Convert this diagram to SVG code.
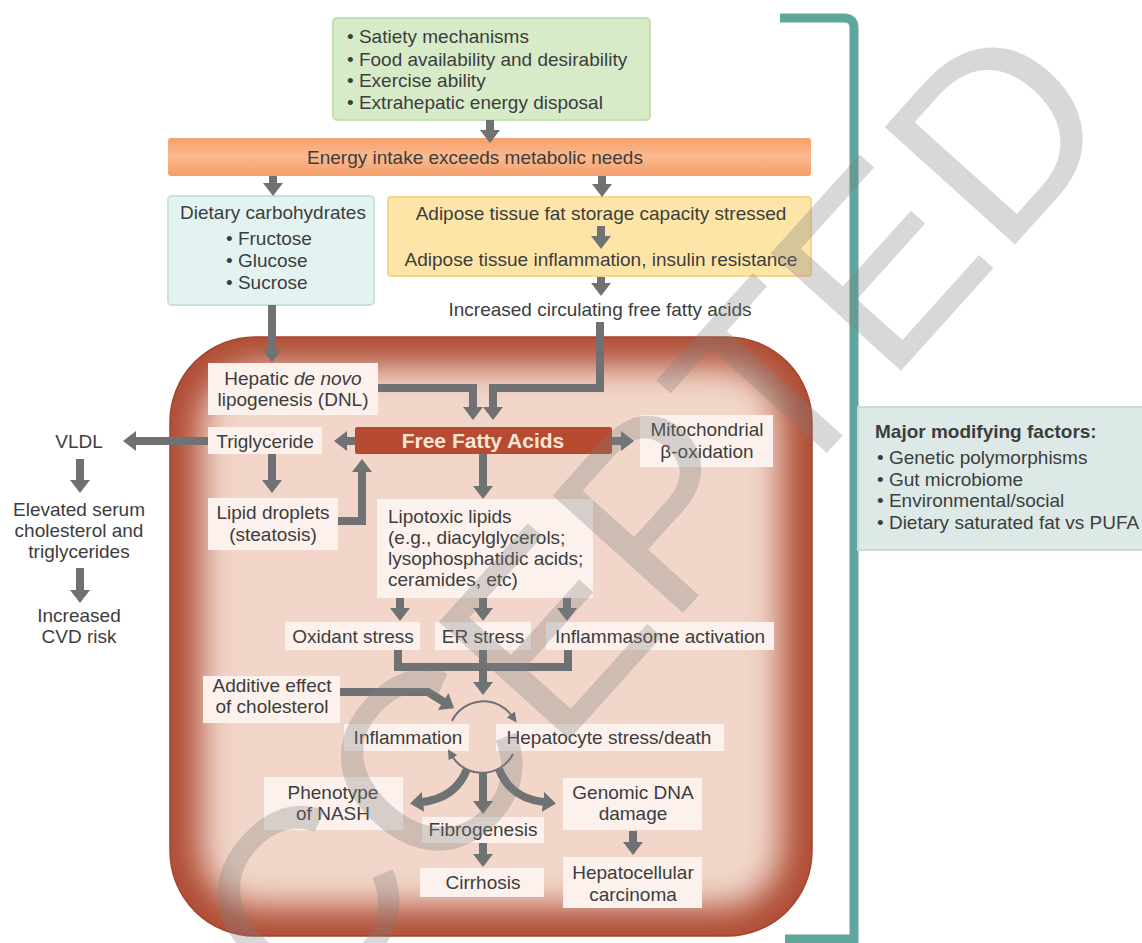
<svg xmlns="http://www.w3.org/2000/svg" width="1142" height="943" viewBox="0 0 1142 943">
<defs>
<style>
.t{font-family:"Liberation Sans",Arial,Helvetica,sans-serif;font-size:19px;fill:#3d3d3d}
.c{text-anchor:middle}
.b{font-weight:bold}
.ib{fill:#fcf1ec}
.ln{fill:none;stroke:#707173;stroke-width:8;stroke-linejoin:miter}
.ar{marker-end:url(#ah)}
.thin{fill:none;stroke:#707173;stroke-width:2;marker-end:url(#ahs)}
</style>
<marker id="ah" markerUnits="userSpaceOnUse" viewBox="0 0 13 20" markerWidth="13" markerHeight="20" refX="1" refY="10" orient="auto">
<path d="M0,0 L13,10 L0,20 Z" fill="#707173"/>
</marker>
<marker id="ahs" markerUnits="userSpaceOnUse" viewBox="0 0 10 10" markerWidth="10" markerHeight="10" refX="2" refY="5" orient="auto">
<path d="M0,0 L10,5 L0,10 Z" fill="#707173"/>
</marker>
<linearGradient id="og" x1="0" y1="0" x2="0" y2="1">
<stop offset="0" stop-color="#f7a06a"/>
<stop offset="0.5" stop-color="#fbb98f"/>
<stop offset="1" stop-color="#f59e69"/>
</linearGradient>
<clipPath id="lc"><rect x="170" y="337" width="642" height="599" rx="85"/></clipPath>
<filter id="bl" x="-20%" y="-20%" width="140%" height="140%"><feGaussianBlur stdDeviation="16"/></filter>
</defs>
<rect width="1142" height="943" fill="#ffffff"/>

<g id="bracket">
<path d="M780 18 H844 Q854 18 854 28 V939 H785" fill="none" stroke="#5fa69c" stroke-width="9"/>
</g>

<g id="liver">
<g clip-path="url(#lc)">
<rect x="170" y="337" width="642" height="599" fill="#b04d35"/>
<rect x="200" y="366" width="582" height="541" rx="60" fill="#f1d6c9" filter="url(#bl)"/>
</g>
<rect x="170" y="337" width="642" height="599" rx="85" fill="none" stroke="#a4462f" stroke-width="1.5"/>
</g>

<g id="factors">
<rect x="333" y="18" width="317" height="102" rx="4" fill="#d7ebc9" stroke="#c4dfb2" stroke-width="2"/>
<text class="t" x="347" y="43">• Satiety mechanisms</text>
<text class="t" x="347" y="66">• Food availability and desirability</text>
<text class="t" x="347" y="87">• Exercise ability</text>
<text class="t" x="347" y="109">• Extrahepatic energy disposal</text>
</g>

<g id="energy">
<rect x="168" y="138" width="643" height="38" rx="3" fill="url(#og)"/>
<text class="t c" x="475" y="164">Energy intake exceeds metabolic needs</text>
</g>

<g id="carbs">
<rect x="168" y="196" width="206" height="109" rx="4" fill="#e3f3f1" stroke="#c5e4e0" stroke-width="2"/>
<text class="t c" x="273" y="219">Dietary carbohydrates</text>
<text class="t" x="226" y="245">• Fructose</text>
<text class="t" x="226" y="267">• Glucose</text>
<text class="t" x="226" y="289">• Sucrose</text>
</g>

<g id="adipose">
<rect x="388" y="197" width="423" height="79" rx="3" fill="#fde5a8" stroke="#f8d48b" stroke-width="2"/>
<text class="t c" x="601" y="220">Adipose tissue fat storage capacity stressed</text>
<text class="t c" x="601" y="266">Adipose tissue inflammation, insulin resistance</text>
</g>

<g id="circulating">
<text class="t c" x="600" y="316">Increased circulating free fatty acids</text>
</g>

<g id="dnl">
<rect class="ib" x="208" y="363" width="170" height="52"/>
<text class="t c" x="293" y="385">Hepatic <tspan font-style="italic">de novo</tspan></text>
<text class="t c" x="293" y="406">lipogenesis (DNL)</text>
</g>

<g id="triglyceride">
<rect class="ib" x="208" y="427" width="114" height="27"/>
<text class="t c" x="265" y="448">Triglyceride</text>
</g>

<g id="ffa">
<rect x="355" y="427" width="257" height="27" rx="2" fill="#b64b31"/>
<text class="t c b" x="483" y="448" style="font-size:21px;fill:#fbe6d6">Free Fatty Acids</text>
</g>

<g id="mito">
<rect class="ib" x="640" y="415" width="133" height="52"/>
<text class="t c" x="707" y="436">Mitochondrial</text>
<text class="t c" x="707" y="458">β-oxidation</text>
</g>

<g id="droplets">
<rect class="ib" x="208" y="498" width="130" height="52"/>
<text class="t c" x="273" y="519">Lipid droplets</text>
<text class="t c" x="273" y="541">(steatosis)</text>
</g>

<g id="lipotoxic">
<rect class="ib" x="377" y="499" width="216" height="99"/>
<text class="t" x="388" y="523">Lipotoxic lipids</text>
<text class="t" x="388" y="544">(e.g., diacylglycerols;</text>
<text class="t" x="388" y="565">lysophosphatidic acids;</text>
<text class="t" x="388" y="586">ceramides, etc)</text>
</g>

<g id="oxidant">
<rect class="ib" x="285" y="622" width="135" height="28"/>
<text class="t c" x="353" y="643">Oxidant stress</text>
</g>
<g id="er">
<rect class="ib" x="435" y="622" width="96" height="28"/>
<text class="t c" x="483" y="643">ER stress</text>
</g>
<g id="inflammasome">
<rect class="ib" x="546" y="622" width="228" height="28"/>
<text class="t c" x="660" y="643">Inflammasome activation</text>
</g>

<g id="cholesterol">
<rect class="ib" x="203" y="676" width="137" height="47"/>
<text class="t c" x="272" y="692">Additive effect</text>
<text class="t c" x="272" y="713">of cholesterol</text>
</g>

<g id="inflammation">
<rect class="ib" x="344" y="724" width="125" height="27"/>
<text class="t c" x="408" y="744">Inflammation</text>
</g>
<g id="hepatocyte">
<rect class="ib" x="496" y="724" width="228" height="27"/>
<text class="t c" x="609" y="744">Hepatocyte stress/death</text>
</g>

<g id="nash">
<rect class="ib" x="264" y="777" width="139" height="53"/>
<text class="t c" x="333" y="799">Phenotype</text>
<text class="t c" x="333" y="820">of NASH</text>
</g>
<g id="fibrogenesis">
<rect class="ib" x="422" y="817" width="122" height="26"/>
<text class="t c" x="483" y="836">Fibrogenesis</text>
</g>
<g id="dna">
<rect class="ib" x="563" y="778" width="139" height="52"/>
<text class="t c" x="633" y="799">Genomic DNA</text>
<text class="t c" x="633" y="820">damage</text>
</g>
<g id="cirrhosis">
<rect class="ib" x="420" y="868" width="124" height="29"/>
<text class="t c" x="483" y="889">Cirrhosis</text>
</g>
<g id="hcc">
<rect class="ib" x="563" y="857" width="139" height="51"/>
<text class="t c" x="633" y="879">Hepatocellular</text>
<text class="t c" x="633" y="901">carcinoma</text>
</g>

<g id="vldl">
<text class="t c" x="79" y="448">VLDL</text>
</g>
<g id="serum">
<text class="t c" x="79" y="516">Elevated serum</text>
<text class="t c" x="79" y="537">cholesterol and</text>
<text class="t c" x="79" y="558">triglycerides</text>
</g>
<g id="cvd">
<text class="t c" x="79" y="622">Increased</text>
<text class="t c" x="79" y="643">CVD risk</text>
</g>

<g id="modifying">
<rect x="858" y="407" width="290" height="143" fill="#dce9e6" stroke="#c8dbd7" stroke-width="2"/>
<text class="t b" x="875" y="438">Major modifying factors:</text>
<text class="t" x="877" y="464">• Genetic polymorphisms</text>
<text class="t" x="877" y="486">• Gut microbiome</text>
<text class="t" x="877" y="507">• Environmental/social</text>
<text class="t" x="877" y="529">• Dietary saturated fat vs PUFA</text>
</g>

<g id="connectors">
<path class="ln ar" d="M490 120 V131"/>
<path class="ln ar" d="M273 176 V184"/>
<path class="ln ar" d="M602 176 V185"/>
<path class="ln ar" d="M601 226 V237"/>
<path class="ln ar" d="M601 277 V284"/>
<path class="ln ar" d="M272 305 V350"/>
<path class="ln ar" d="M378 388 H473 V408"/>
<path class="ln ar" d="M600 322 V388 H493 V408"/>
<path class="ln ar" d="M355 441 H346"/>
<path class="ln ar" d="M208 441 H135"/>
<path class="ln ar" d="M80 459 V481"/>
<path class="ln ar" d="M80 568 V591"/>
<path class="ln ar" d="M272 454 V481"/>
<path class="ln ar" d="M338 521 H362 V471"/>
<path class="ln ar" d="M612 441 H622"/>
<path class="ln ar" d="M483 454 V487"/>
<path class="ln ar" d="M400 598 V609"/>
<path class="ln ar" d="M483 598 V609"/>
<path class="ln ar" d="M567 598 V609"/>
<path class="ln" d="M398 650 V667 H568 V650"/>
<path class="ln ar" d="M483 650 V683"/>
<path class="ln ar" d="M340 692 H428 L444 702"/>
<path class="thin" d="M452 721 A35 35 0 0 1 512 716"/>
<path class="thin" d="M513 754 A35 35 0 0 1 452 756"/>
<path class="ln ar" d="M483 773 V802"/>
<path class="ln ar" d="M467 769 Q456 798 422 802"/>
<path class="ln ar" d="M499 769 Q510 798 544 802"/>
<path class="ln ar" d="M633 831 V843"/>
<path class="ln ar" d="M483 843 V855"/>
</g>

<g id="watermark">
<text x="0" y="0" transform="translate(195 1155) rotate(-48)" style="font-family:'Liberation Sans',Arial,sans-serif;font-size:255px;fill:#7f7f7f;opacity:0.3">ACCEPTED</text>
</g>
</svg>
